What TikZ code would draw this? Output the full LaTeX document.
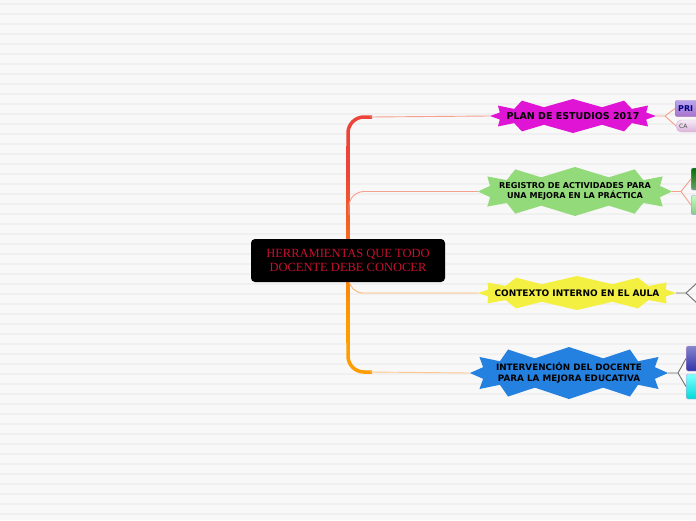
\documentclass[tikz,border=0pt]{standalone}
\usepackage{fontspec}
\setmainfont{Liberation Serif}
\newfontfamily\vfont{DejaVu Sans}
\definecolor{bg}{HTML}{F8F8F8}
\definecolor{stripe}{HTML}{F0F0F0}
\definecolor{magstar}{HTML}{E014D4}
\definecolor{greenstar}{HTML}{93DA7B}
\definecolor{yelstar}{HTML}{F3F041}
\definecolor{bluestar}{HTML}{2581E0}
\definecolor{centertext}{HTML}{C8102E}
\definecolor{salmon}{HTML}{F5A08E}
\definecolor{peach}{HTML}{FFC48A}
\definecolor{ltorange}{HTML}{FFB468}
\definecolor{trtop}{HTML}{EC4438}
\definecolor{trbot}{HTML}{FF9C00}
\definecolor{graylink}{HTML}{707070}
% star polygon on a superellipse: cx cy rx ry depth n colour
\newcommand\starpoly[7]{%
  \fill[#7] (#1+#3,#2) \foreach \i in {1,...,\numexpr2*#6-1\relax} {
    -- ({#1+(#3-mod(\i,2)*#5)*sign(cos(\i*180/#6))*pow(abs(cos(\i*180/#6)),0.7)},
        {#2+(#4-mod(\i,2)*#5)*sign(sin(\i*180/#6))*pow(abs(sin(\i*180/#6)),0.7)})
  } -- cycle;}
\tikzset{
  startext/.style={inner sep=0pt, align=center, text=black},
  childbox/.style={draw, rounded corners=2pt, minimum height=#1, minimum width=40pt, anchor=west, inner sep=2pt},
  link/.style={line width=0.9pt}
}
\begin{document}
\begin{tikzpicture}[x=1pt,y=-1pt]
\useasboundingbox (0,0) rectangle (696,520);
\clip (0,0) rectangle (696,520);
\fill[bg] (0,0) rectangle (696,520);
\foreach \k in {0,...,51} {\fill[stripe] (0,3+10*\k) rectangle (696,4.5+10*\k);}
% trunk
\draw[trtop, line width=3.5pt, rounded corners=16pt] (348,150) |- (372,117);
\foreach \y in {146,150,...,338} {
  \pgfmathsetmacro\p{min(100,max(0,(\y-170)/150*100))}
  \draw[trbot!\p!trtop, line width=3.5pt] (348,\y) -- (348,\y+4.5);
}
\draw[trbot, line width=3.5pt, rounded corners=16pt] (348,340) |- (372,372);
% stars
\starpoly{573}{116}{83}{17}{8}{12}{magstar}
\starpoly{575}{191.5}{97}{24.5}{10}{12}{greenstar}
\starpoly{577}{293}{99}{17}{8}{12}{yelstar}
\starpoly{569}{373}{99}{26}{11}{12}{bluestar}
\node[startext, minimum width=166pt, minimum height=34pt, font=\vfont\bfseries\fontsize{9.5}{11}\selectfont] (s1) at (573,116) {PLAN DE ESTUDIOS 2017};
\node[startext, minimum width=194pt, minimum height=49pt, font=\vfont\bfseries\fontsize{8.1}{10}\selectfont] (s2) at (575,191.5) {REGISTRO DE ACTIVIDADES PARA\\UNA MEJORA EN LA PRÁCTICA};
\node[startext, minimum width=198pt, minimum height=34pt, font=\vfont\bfseries\fontsize{9}{11}\selectfont] (s3) at (577,293) {CONTEXTO INTERNO EN EL AULA};
\node[startext, minimum width=198pt, minimum height=52pt, font=\vfont\bfseries\fontsize{8.8}{11}\selectfont] (s4) at (569,373) {INTERVENCIÓN DEL DOCENTE\\PARA LA MEJORA EDUCATIVA};
% branches
\draw[salmon, link] (370,117) -- (s1.west);
\draw[salmon, link, rounded corners=15pt] (349,215) |- (s2.west);
\draw[ltorange, link, rounded corners=14pt] (349,270) |- (s3.west);
\draw[peach, link] (370,372) -- (s4.west);
% center
\node[fill=black, rounded corners=4pt, minimum width=194pt, minimum height=43pt, inner sep=0pt,
  text=centertext, align=center, font=\fontsize{12.5}{14.5}\selectfont] (c) at (348,260.5) {HERRAMIENTAS QUE TODO\\DOCENTE DEBE CONOCER};
% children of s1
\node[childbox=16pt, draw=violet!60, top color=purple!25!blue!35, bottom color=purple!50!blue!55, text=blue!50!black, font=\vfont\bfseries\fontsize{8}{9}\selectfont, align=left, text width=34pt] (a1) at (675,108.5) {PRI};
\node[childbox=12pt, draw=violet!30, top color=violet!8, bottom color=violet!30, text=black!70, font=\vfont\fontsize{6}{7}\selectfont, align=left, text width=34pt, rounded corners=5pt] (a2) at (676,126) {CA};
\coordinate (j1) at (665,116);
\draw[salmon, link] (s1.east) -- (j1) -- (a1.west);
\draw[salmon, link] (j1) -- (a2.west);
% children of s2
\node[childbox=22pt, draw=blue!45, top color=green!45!black, bottom color=green!40!black!60!white] (b1) at (691,179) {};
\node[childbox=19pt, draw=blue!45, top color=green!25!white, bottom color=green!35!white!80!black] (b2) at (691,205) {};
\coordinate (j2) at (681,191.5);
\draw[salmon, link] (s2.east) -- (j2) -- (b1.west);
\draw[salmon, link] (j2) -- (b2.west);
% children of s3
\coordinate (j3) at (686,293);
\coordinate (e31) at (698,282);
\coordinate (e32) at (698,304);
\draw[graylink, link] (s3.east) -- (j3) -- (e31);
\draw[graylink, link] (j3) -- (e32);
% children of s4
\node[childbox=25pt, draw=violet!40, top color=blue!35!white!80!black, bottom color=blue!60!black!80!white] (d1) at (686,358.5) {};
\node[childbox=25pt, draw=violet!40, top color=cyan!50!white, bottom color=cyan!70!teal] (d2) at (686,386.5) {};
\coordinate (j4) at (678,373);
\draw[graylink, link] (s4.east) -- (j4) -- (d1.west);
\draw[graylink, link] (j4) -- (d2.west);
\end{tikzpicture}
\end{document}
